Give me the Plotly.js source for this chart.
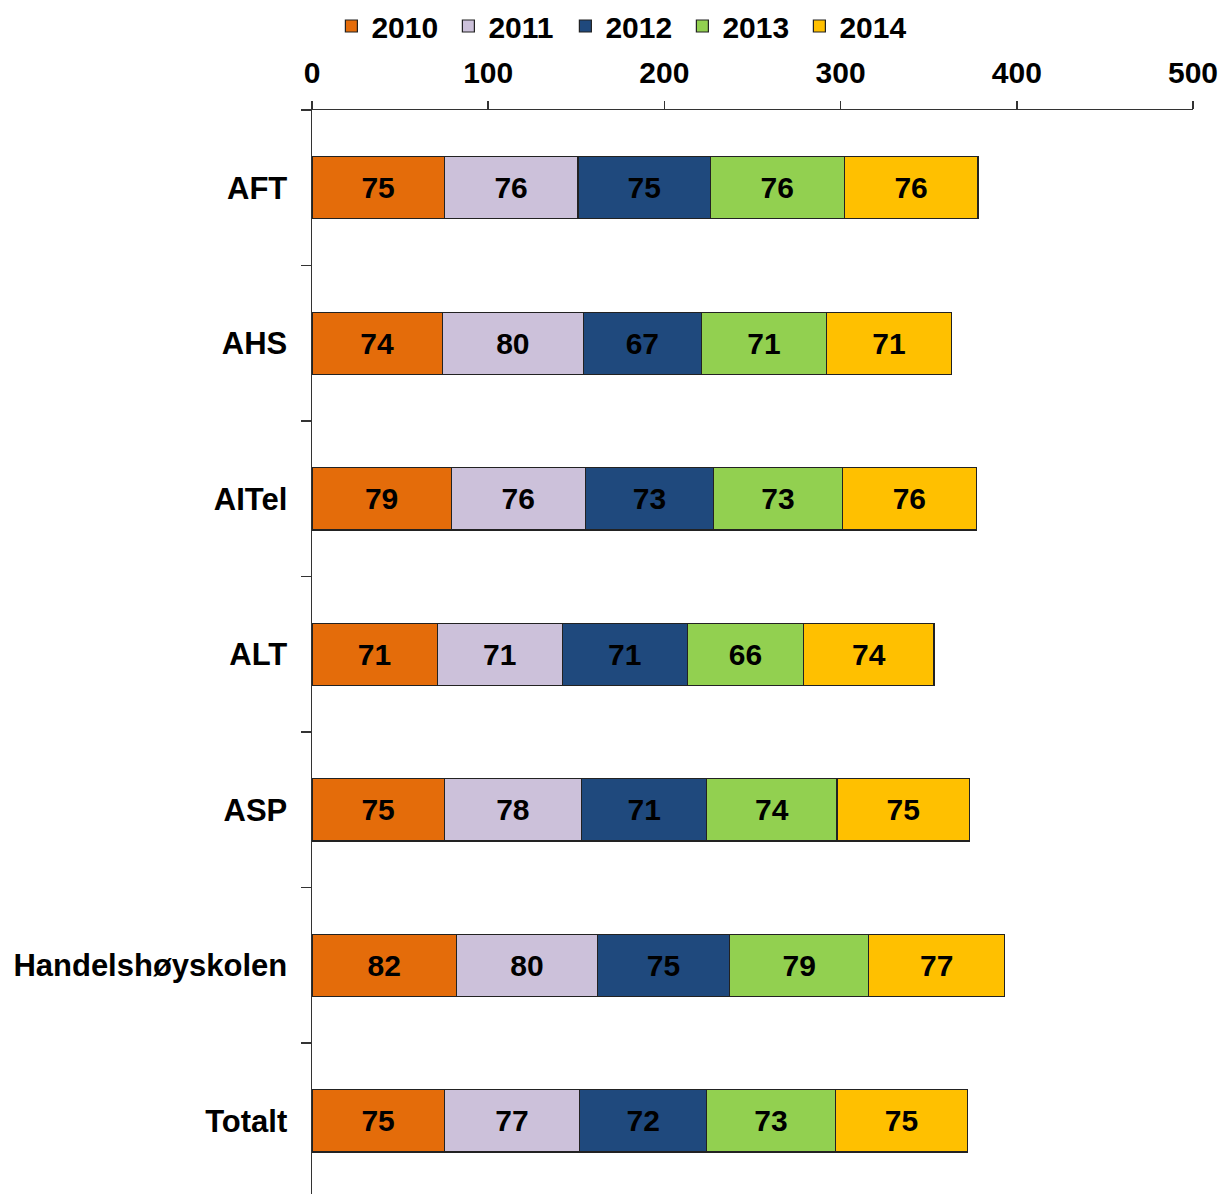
<!DOCTYPE html>
<html>
<head>
<meta charset="utf-8">
<script src="https://cdn.plot.ly/plotly-3.0.1.min.js"></script>
<style>
  body { margin: 0; background: #fff; }
  #plot { width: 1223px; height: 1194px; }
</style>
</head>
<body>
<div id="plot"></div>
<script>
const categories = ['AFT', 'AHS', 'AITel', 'ALT', 'ASP', 'Handelshøyskolen', 'Totalt']
const years = ['2010', '2011', '2012', '2013', '2014']
const v2010 = [75, 74, 79, 71, 75, 82, 75]
const v2011 = [76, 80, 76, 71, 78, 80, 77]
const v2012 = [75, 67, 73, 71, 71, 75, 72]
const v2013 = [76, 71, 73, 66, 74, 79, 73]
const v2014 = [76, 71, 76, 74, 75, 77, 75]
const colors = ['#E46C0A', '#CCC1DA', '#1F497D', '#92D050', '#FFC000']

const family = 'Liberation Sans, Arial, sans-serif'
const font = { family: family, size: 30, color: '#000', weight: 700 }
const catFont = { family: family, size: 31, color: '#000', weight: 700 }

const data = [v2010, v2011, v2012, v2013, v2014].map(function (vals, i) {
    return {
        type: 'bar',
        orientation: 'h',
        name: years[i],
        x: vals,
        y: categories,
        text: vals.map(String),
        textposition: 'inside',
        insidetextanchor: 'middle',
        textangle: 0,
        constraintext: 'none',
        textfont: font,
        hoverinfo: 'none',
        marker: {
            color: colors[i],
            line: { color: '#222', width: 1.2 }
        }
    }
})

const layout = {
    width: 1223,
    height: 1194,
    margin: { l: 312, r: 30, t: 110, b: 0 },
    barmode: 'stack',
    bargap: 0.6,
    paper_bgcolor: '#fff',
    plot_bgcolor: '#fff',
    font: font,
    showlegend: true,
    legend: {
        orientation: 'h',
        x: 0.022,
        xanchor: 'left',
        y: 1,
        yanchor: 'top',
        yref: 'container',
        font: font,
        itemwidth: 30,
        entrywidth: 72,
        tracegroupgap: 0,
        traceorder: 'normal'
    },
    xaxis: {
        side: 'top',
        range: [0, 500],
        dtick: 100,
        showgrid: false,
        zeroline: false,
        showline: true,
        linecolor: '#333',
        linewidth: 1.5,
        ticks: 'outside',
        ticklen: 8,
        tickwidth: 1.5,
        tickcolor: '#333',
        ticklabelstandoff: 6,
        tickfont: font,
        fixedrange: true
    },
    yaxis: {
        type: 'category',
        range: [6.47, -0.5],
        showgrid: false,
        zeroline: false,
        showline: true,
        linecolor: '#333',
        linewidth: 1.5,
        ticks: 'outside',
        tickson: 'boundaries',
        ticklen: 10,
        tickwidth: 1.5,
        tickcolor: '#333',
        ticklabelstandoff: 17,
        tickfont: catFont,
        fixedrange: true
    }
}

Plotly.newPlot('plot', data, layout, { displayModeBar: false, staticPlot: true })
</script>
</body>
</html>
